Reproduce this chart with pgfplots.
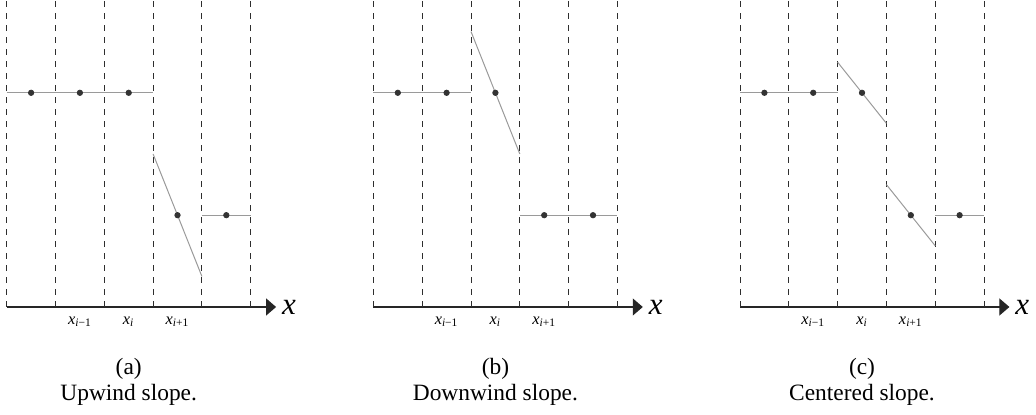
\documentclass[border=0pt]{standalone}
\usepackage{fontspec}
\setmainfont{Liberation Serif}
\usepackage{pgfplots}
\pgfplotsset{compat=1.18}
\usetikzlibrary{arrows.meta}
\definecolor{gridc}{HTML}{2E2E2E}
\definecolor{segc}{HTML}{9A9A9A}
\definecolor{ptc}{HTML}{333333}
\newcommand{\xl}[1]{\textit{x}\textsubscript{#1}}
\pgfplotsset{
  panel/.style={
    anchor=origin,
    x=24.4pt, y=15.3pt,
    xmin=0, xmax=5.52, ymin=0, ymax=10,
    axis x line=bottom, axis y line=none,
    x axis line style={line width=0.55pt, draw=black!85, -{Triangle[length=5pt,width=8.5pt]}},
    xtick={1.5,2.5,3.5},
    xticklabels={\xl{\textit{i}−1},\xl{\textit{i}},\xl{\textit{i}+1}},
    major tick length=0pt,
    xticklabel style={anchor=base, yshift=-8.6pt, font=\fontsize{8.2}{9}\selectfont},
    xlabel={\textit{x}},
    x label style={at={(axis description cs:1,0)}, anchor=west, font=\fontsize{15.5}{16}\selectfont, inner sep=2.8pt},
    clip=false,
  },
  grid/.style={ycomb, no marks, dashed, draw=gridc, line width=0.45pt},
  seg/.style={no marks, draw=segc, line width=0.5pt},
  pts/.style={only marks, mark=*, mark size=1.35pt, mark options={fill=ptc, draw=ptc}},
}
\begin{document}
\begin{tikzpicture}
\useasboundingbox (0,0) rectangle (518pt,207.5pt);
% (a)
\begin{axis}[panel, at={(3.35pt,54pt)}]
\addplot[grid] coordinates {(0,10)(1,10)(2,10)(3,10)(4,10)(5,10)};
\addplot[seg] coordinates {(0,7)(3,7)};
\addplot[seg] coordinates {(3,5)(4,1)};
\addplot[seg] coordinates {(4,3)(5,3)};
\addplot[pts] coordinates {(0.5,7)(1.5,7)(2.5,7)(3.5,3)(4.5,3)};
\node[anchor=base, font=\fontsize{11.7}{13}\selectfont] at (axis cs:2.5,-2.22) {(a)};
\node[anchor=base, font=\fontsize{11.7}{13}\selectfont] at (axis cs:2.5,-3.04) {Upwind slope.};
\end{axis}
% (b)
\begin{axis}[panel, at={(186.7pt,54pt)}]
\addplot[grid] coordinates {(0,10)(1,10)(2,10)(3,10)(4,10)(5,10)};
\addplot[seg] coordinates {(0,7)(2,7)};
\addplot[seg] coordinates {(2,9)(3,5)};
\addplot[seg] coordinates {(3,3)(5,3)};
\addplot[pts] coordinates {(0.5,7)(1.5,7)(2.5,7)(3.5,3)(4.5,3)};
\node[anchor=base, font=\fontsize{11.7}{13}\selectfont] at (axis cs:2.5,-2.22) {(b)};
\node[anchor=base, font=\fontsize{11.7}{13}\selectfont] at (axis cs:2.5,-3.04) {Downwind slope.};
\end{axis}
% (c)
\begin{axis}[panel, at={(370pt,54pt)}]
\addplot[grid] coordinates {(0,10)(1,10)(2,10)(3,10)(4,10)(5,10)};
\addplot[seg] coordinates {(0,7)(2,7)};
\addplot[seg] coordinates {(2,8)(3,6)};
\addplot[seg] coordinates {(3,4)(4,2)};
\addplot[seg] coordinates {(4,3)(5,3)};
\addplot[pts] coordinates {(0.5,7)(1.5,7)(2.5,7)(3.5,3)(4.5,3)};
\node[anchor=base, font=\fontsize{11.7}{13}\selectfont] at (axis cs:2.5,-2.22) {(c)};
\node[anchor=base, font=\fontsize{11.7}{13}\selectfont] at (axis cs:2.5,-3.04) {Centered slope.};
\end{axis}
\end{tikzpicture}
\end{document}
